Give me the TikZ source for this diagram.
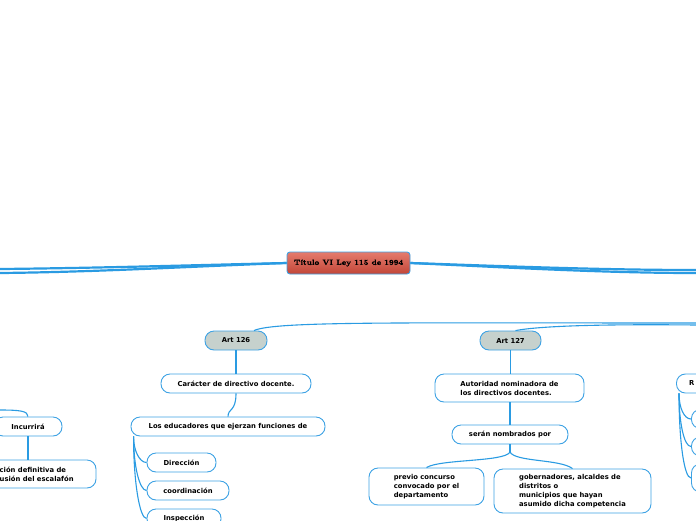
\documentclass[tikz,border=0pt]{standalone}
\usepackage{fontspec}
\usetikzlibrary{calc}
\newfontfamily\mapsans{DejaVu Sans}
\newfontfamily\titleserif{Latin Modern Roman}[BoldFeatures={FakeBold=0.8}]
\newcommand{\mapfont}{\mapsans\bfseries\fontsize{6.8}{9}\selectfont}
\definecolor{linkblue}{HTML}{2A9BE2}
\definecolor{boxblue}{HTML}{3DA2E4}
\definecolor{artgray}{HTML}{C6D1CD}
\definecolor{titletop}{HTML}{E57B6D}
\definecolor{titlebottom}{HTML}{C24638}
\tikzset{
  topic/.style={draw=boxblue, line width=0.9pt, fill=white, rounded corners=9pt,
    font=\mapfont, inner sep=2pt, minimum height=19pt},
  art/.style={topic, fill=artgray},
  maptext/.style={font=\mapfont, inner sep=0pt, align=left},
  link/.style={draw=linkblue, line width=1.1pt},
  rootlink/.style={draw=linkblue, line width=2.2pt}
}
\begin{document}
\begin{tikzpicture}[x=1pt, y=-1pt]
    \useasboundingbox (0,0) rectangle (696,520);
    \clip (0,0) rectangle (696,520);

    % Titulo
    \node[draw=boxblue, line width=0.9pt, rounded corners=3pt, top color=titletop, bottom color=titlebottom,
      minimum width=123pt, minimum height=22pt, font=\titleserif\fontsize{7.7}{9}\selectfont\bfseries] (titulo) at (348.5,263) {Título VI Ley 115 de 1994};
    \coordinate (offwestA) at (0,269); \coordinate (offwestB) at (0,273);
    \coordinate (offeastA) at (696,270); \coordinate (offeastB) at (696,273);
    \coordinate (offeastC) at (696,323); \coordinate (offeastD) at (696,325);
    \coordinate (offwestE) at (0,410);
    \draw[rootlink] (titulo.west) .. controls (200,265) and (100,268) .. (offwestA);
    \draw[rootlink] (titulo.west) .. controls (200,266) and (100,272) .. (offwestB);
    \draw[rootlink] (titulo.east) .. controls (500,266) and (600,270) .. (offeastA);
    \draw[rootlink] (titulo.east) .. controls (500,267) and (600,273) .. (offeastB);

    % Art 126
    \node[art, minimum width=62pt] (art126) at (236,340.5) {Art 126};
    \draw[link] ([xshift=18pt]art126.north) .. controls (275,321) and (400,323) .. (offeastC);
    \node[topic, minimum width=150pt] (caracter) at (236,383.5) {Carácter de directivo docente.};
    \draw[link] (art126.south) -- (caracter.north);
    \node[topic, minimum width=194pt] (educadores) at (228,426.5) {Los educadores que ejerzan funciones de};
    \draw[link] (caracter.south) .. controls (236,412) and (228,408) .. (educadores.north);
    \node[topic, minimum width=69pt] (direccion) at (181.5,462.5) {Dirección};
    \node[topic, minimum width=82pt] (coordinacion) at (188,490.5) {coordinación};
    \node[topic, minimum width=74pt] (inspeccion) at (184,518.5) {Inspección};
    \coordinate (educfork) at ([xshift=3pt]educadores.south west);
    \foreach \kid in {direccion, coordinacion, inspeccion}
      \draw[link] (educfork) .. controls ($(educfork)!0.55!(educfork |- \kid.west)$) and ([xshift=-7pt]\kid.west) .. (\kid.west);

    % Incurrira
    \node[topic, minimum width=68pt] (incurrira) at (28,426.5) {Incurrirá};
    \draw[link] (offwestE) .. controls (20,410) and (28,411) .. (incurrira.north);
    \node[topic, minimum width=160pt, minimum height=28pt] (exclusion) at (16,474) {};
    \node[maptext, anchor=west] (exclusiontxt) at (-0.5,474) {ción definitiva de\\usión del escalafón};
    \draw[link] (incurrira.south) -- (incurrira.south |- exclusion.north);

    % Art 127
    \node[art, minimum width=61pt] (art127) at (510.5,340.5) {Art 127};
    \draw[link] ([xshift=5pt]art127.north) .. controls (540,326) and (600,324) .. (offeastD);
    \node[topic, minimum width=149pt, minimum height=28pt, align=left] (autoridad) at (509.5,388) {Autoridad nominadora de\\los directivos docentes.};
    \draw[link] (art127.south) -- (art127.south |- autoridad.north);
    \node[topic, minimum width=116pt] (nombrados) at (510,434.5) {serán nombrados por};
    \draw[link] (nombrados.north |- autoridad.south) -- (nombrados.north);
    \node[topic, minimum width=115pt, minimum height=37pt, align=left] (concurso) at (426.5,486.5) {previo concurso\\convocado por el\\departamento};
    \node[topic, minimum width=157pt, minimum height=44pt, align=left] (gobernadores) at (572.5,491) {gobernadores, alcaldes de\\distritos o\\municipios que hayan\\asumido dicha competencia};
    \coordinate (nombfork) at (510,452);
    \draw[link] (nombrados.south) -- (nombfork);
    \draw[link] (nombfork) .. controls (505,462) and (440,459) .. (concurso.north);
    \draw[link] (nombfork) .. controls (515,462) and (560,459) .. (gobernadores.north);

    % Rama derecha
    \node[topic, minimum width=80pt, anchor=west] (requisitos) at (676,383.5) {};
    \node[maptext, anchor=west] (requisitostxt) at (689,383.5) {R};
    \node[topic, minimum width=60pt, anchor=west] (reqA) at (691,419) {};
    \node[topic, minimum width=60pt, anchor=west] (reqB) at (691,446.5) {};
    \node[topic, minimum width=60pt, minimum height=28pt, anchor=west] (reqC) at (691,478) {};
    \coordinate (reqfork) at ([xshift=3pt]requisitos.south west);
    \foreach \kid in {reqA, reqB, reqC}
      \draw[link] (reqfork) .. controls ($(reqfork)!0.55!(reqfork |- \kid.west)$) and ([xshift=-7pt]\kid.west) .. (\kid.west);
\end{tikzpicture}
\end{document}
